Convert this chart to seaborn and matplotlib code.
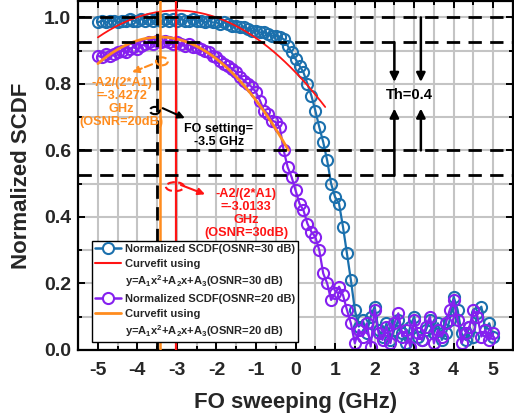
import numpy as np
import matplotlib
matplotlib.use("Agg")
import matplotlib.pyplot as plt
from matplotlib.lines import Line2D
from matplotlib.patches import Ellipse
from matplotlib.ticker import MultipleLocator
import seaborn as sns

# Frequency-offset sweep (GHz), 0.1 GHz step
fo_ghz = np.round(np.linspace(-5.0, 5.0, 101), 2)

# Normalized SCDF, OSNR = 30 dB
scdf_30db = [
    0.985, 0.990, 0.985, 0.990, 0.990, 0.985, 0.990, 0.990, 0.995, 0.990,  # -5.0 .. -4.1
    0.990, 0.995, 0.990, 0.995, 0.990, 0.995, 0.990, 0.995, 0.990, 0.995,  # -4.0 .. -3.1
    0.990, 0.995, 0.990, 0.990, 0.995, 0.990, 0.990, 0.985, 0.990, 0.985,  # -3.0 .. -2.1
    0.985, 0.980, 0.985, 0.980, 0.975, 0.975, 0.970, 0.970, 0.965, 0.960,  # -2.0 .. -1.1
    0.960, 0.955, 0.955, 0.950, 0.945, 0.945, 0.940, 0.935, 0.915, 0.895,  # -1.0 .. -0.1
    0.875, 0.855, 0.835, 0.800, 0.765, 0.720, 0.670, 0.625, 0.570, 0.500,  #  0.0 ..  0.9
    0.460, 0.440, 0.370, 0.290, 0.210, 0.120, 0.070, 0.090, 0.050, 0.100,  #  1.0 ..  1.9
    0.130, 0.060, 0.040, 0.080, 0.030, 0.060, 0.090, 0.050, 0.020, 0.070,  #  2.0 ..  2.9
    0.100, 0.040, 0.030, 0.060, 0.090, 0.050, 0.080, 0.030, 0.050, 0.090,  #  3.0 ..  3.9
    0.160, 0.120, 0.050, 0.030, 0.070, 0.040, 0.110, 0.130, 0.060, 0.080,  #  4.0 ..  4.9
    0.040,                                                                  #  5.0
]

# Normalized SCDF, OSNR = 20 dB
scdf_20db = [
    0.885, 0.880, 0.890, 0.885, 0.890, 0.895, 0.900, 0.895, 0.905, 0.910,  # -5.0 .. -4.1
    0.905, 0.915, 0.920, 0.925, 0.920, 0.930, 0.925, 0.930, 0.925, 0.920,  # -4.0 .. -3.1
    0.925, 0.920, 0.915, 0.920, 0.910, 0.910, 0.905, 0.900, 0.895, 0.885,  # -3.0 .. -2.1
    0.880, 0.870, 0.860, 0.855, 0.845, 0.835, 0.820, 0.810, 0.800, 0.790,  # -2.0 .. -1.1
    0.775, 0.750, 0.720, 0.710, 0.690, 0.685, 0.670, 0.600, 0.550, 0.520,  # -1.0 .. -0.1
    0.480, 0.440, 0.420, 0.380, 0.355, 0.340, 0.300, 0.230, 0.200, 0.150,  #  0.0 ..  0.9
    0.170, 0.190, 0.165, 0.120, 0.080, 0.020, 0.060, 0.040, 0.080, 0.010,  #  1.0 ..  1.9
    0.120, 0.050, 0.030, 0.070, 0.020, 0.080, 0.110, 0.040, 0.060, 0.010,  #  2.0 ..  2.9
    0.090, 0.050, 0.030, 0.070, 0.100, 0.020, 0.060, 0.040, 0.080, 0.120,  #  3.0 ..  3.9
    0.150, 0.090, 0.020, 0.050, 0.070, 0.120, 0.100, 0.040, 0.060, 0.030,  #  4.0 ..  4.9
    0.050,                                                                  #  5.0
]

# Quadratic fits y = A1*(x - vertex)^2 + peak, vertex = -A2/(2*A1)
fit30_a1, fit30_vertex, fit30_peak, fit30_range = -0.0205, -3.0133, 1.021, (-5.0, 0.75)
fit20_a1, fit20_vertex, fit20_peak, fit20_range = -0.0323, -3.4272, 0.941, (-5.0, -0.18)

fo_setting = -3.5
th_levels_30 = (1.0, 0.6)
th_levels_20 = (0.925, 0.525)
threshold = 0.4

BLUE = "#1b70ad"
PURPLE = "#8520ef"
RED = "#ff1414"
ORANGE = "#ff8c1e"

sns.set_theme(style="ticks")
plt.rcParams.update({
    "font.family": ["Liberation Sans", "DejaVu Sans"],
    "font.weight": "bold",
    "axes.unicode_minus": False,
    "mathtext.fontset": "custom",
    "mathtext.rm": "Liberation Sans:bold",
    "mathtext.bf": "Liberation Sans:bold",
    "mathtext.it": "Liberation Sans:bold",
    "mathtext.default": "bf",
})

fig, ax = plt.subplots(figsize=(5.14, 4.19), dpi=100)
fig.subplots_adjust(left=0.152, right=0.998, bottom=0.165, top=0.998)

ax.set_xlim(-5.5, 5.5)
ax.set_ylim(0, 1.05)
ax.xaxis.set_major_locator(MultipleLocator(1))
ax.xaxis.set_minor_locator(MultipleLocator(0.5))
ax.yaxis.set_major_locator(MultipleLocator(0.2))
ax.yaxis.set_minor_locator(MultipleLocator(0.1))
ax.grid(which="both", color="#c4c4c4", lw=1.5)
ax.set_axisbelow(True)

# measured SCDF curves
sns.lineplot(x=fo_ghz, y=scdf_30db, ax=ax, color=BLUE, lw=1.6, marker="o",
             markersize=8, markerfacecolor="none", markeredgecolor=BLUE,
             markeredgewidth=1.5, errorbar=None, zorder=2)
sns.lineplot(x=fo_ghz, y=scdf_20db, ax=ax, color=PURPLE, lw=1.6, marker="o",
             markersize=8, markerfacecolor="none", markeredgecolor=PURPLE,
             markeredgewidth=1.5, errorbar=None, zorder=2.1)

# quadratic curve fits
x30 = np.linspace(*fit30_range, 200)
x20 = np.linspace(*fit20_range, 200)
sns.lineplot(x=x30, y=fit30_a1 * (x30 - fit30_vertex) ** 2 + fit30_peak, ax=ax,
             color=RED, lw=1.3, errorbar=None, zorder=3)
sns.lineplot(x=x20, y=fit20_a1 * (x20 - fit20_vertex) ** 2 + fit20_peak, ax=ax,
             color=ORANGE, lw=2.0, errorbar=None, zorder=3)

# vertex lines and FO setting
ax.axvline(fit20_vertex, color=ORANGE, lw=1.8, zorder=3.5)
ax.axvline(fit30_vertex, color=RED, lw=1.6, zorder=3.5)
dash = (0, (4.8, 3.0))
ax.axvline(fo_setting, color="black", lw=2.0, ls=dash, zorder=4)
for lvl in th_levels_30 + th_levels_20:
    ax.axhline(lvl, color="black", lw=2.0, ls=dash, zorder=4)

# threshold arrows
arrow_kw = dict(arrowstyle="-|>", color="black", lw=1.8, mutation_scale=13,
                shrinkA=0, shrinkB=0)
th_x20, th_x30 = 2.5, 3.17
tip_top, tip_bot = 0.806, 0.726
ax.annotate("", xy=(th_x20, tip_top), xytext=(th_x20, th_levels_20[0]), arrowprops=arrow_kw, zorder=5)
ax.annotate("", xy=(th_x30, tip_top), xytext=(th_x30, th_levels_30[0]), arrowprops=arrow_kw, zorder=5)
ax.annotate("", xy=(th_x20, tip_bot), xytext=(th_x20, th_levels_20[1]), arrowprops=arrow_kw, zorder=5)
ax.annotate("", xy=(th_x30, tip_bot), xytext=(th_x30, th_levels_30[1]), arrowprops=arrow_kw, zorder=5)
ax.text(2.88, 0.766, f"Th={threshold}", ha="center", va="center", fontsize=10.5,
        fontweight="bold", color="black", zorder=6)

# marked points with callouts
ax.add_patch(Ellipse((-3.38, 0.868), 0.3, 0.024, fill=False, ec=ORANGE, lw=1.5, ls="--", zorder=5))
ax.annotate("", xy=(-4.14, 0.835), xytext=(-3.63, 0.859),
            arrowprops=dict(arrowstyle="-|>", color=ORANGE, lw=1.5, ls="--",
                            mutation_scale=10, shrinkA=0, shrinkB=0), zorder=5)
ax.text(-4.4, 0.745, f"-A2/(2*A1)\n={fit20_vertex:.4f}\nGHz\n(OSNR=20dB)",
        ha="center", va="center", color=ORANGE, fontsize=9.2, fontweight="bold",
        linespacing=1.1, zorder=6)

ax.add_patch(Ellipse((-3.56, 0.72), 0.25, 0.022, fill=False, ec="black", lw=1.5, ls="--", zorder=5))
ax.annotate("", xy=(-2.8, 0.697), xytext=(-3.36, 0.727),
            arrowprops=dict(arrowstyle="-|>", color="black", lw=1.5,
                            mutation_scale=10, shrinkA=0, shrinkB=0), zorder=5)
ax.text(-1.94, 0.644, f"FO setting=\n{fo_setting} GHz", ha="center", va="center",
        color="black", fontsize=9, fontweight="bold", linespacing=1.15, zorder=6)

ax.add_patch(Ellipse((-3.05, 0.491), 0.46, 0.027, fill=False, ec=RED, lw=1.5, ls="--", zorder=5))
ax.annotate("", xy=(-2.29, 0.468), xytext=(-2.9, 0.496),
            arrowprops=dict(arrowstyle="-|>", color=RED, lw=1.5,
                            mutation_scale=10, shrinkA=0, shrinkB=0), zorder=5)
ax.text(-1.25, 0.411, f"-A2/(2*A1)\n={fit30_vertex:.4f}\nGHz\n(OSNR=30dB)",
        ha="center", va="center", color=RED, fontsize=9.2, fontweight="bold",
        linespacing=1.1, zorder=6)

# axes styling
for sp in ax.spines.values():
    sp.set_linewidth(1.6)
    sp.set_color("black")
    sp.set_visible(True)
ax.tick_params(which="both", direction="in", top=True, right=True, width=1.4, color="black")
ax.tick_params(which="major", length=5, labelsize=14)
ax.tick_params(axis="x", which="major", pad=9)
ax.tick_params(axis="y", which="major", pad=5)
ax.tick_params(which="minor", length=3)
for lab in ax.get_xticklabels() + ax.get_yticklabels():
    lab.set_fontweight("bold")
ax.set_xlabel("FO sweeping (GHz)", fontsize=16, fontweight="bold", labelpad=9)
ax.set_ylabel("Normalized SCDF", fontsize=16, fontweight="bold", labelpad=9)

# legend
blank = Line2D([], [], color="none")
handles = [
    Line2D([], [], color=BLUE, lw=1.8, marker="o", ms=8, mfc="white", mec=BLUE, mew=1.5),
    Line2D([], [], color=RED, lw=1.5),
    blank,
    Line2D([], [], color=PURPLE, lw=1.8, marker="o", ms=8, mfc="white", mec=PURPLE, mew=1.5),
    Line2D([], [], color=ORANGE, lw=2.0),
    blank,
]
labels = [
    "Normalized SCDF(OSNR=30 dB)",
    "Curvefit using",
    r"y=A$_1$x$^2$+A$_2$x+A$_3$(OSNR=30 dB)",
    "Normalized SCDF(OSNR=20 dB)",
    "Curvefit using",
    r"y=A$_1$x$^2$+A$_2$x+A$_3$(OSNR=20 dB)",
]
leg = ax.legend(handles, labels, loc="lower left", bbox_to_anchor=(0.032, 0.023),
                borderaxespad=0, fontsize=8, frameon=True, fancybox=False,
                framealpha=1, edgecolor="black", handlelength=2.4,
                handletextpad=0.3, labelspacing=0.42, borderpad=0.25)
leg.get_frame().set_linewidth(1.0)
leg.set_zorder(7)
for t in leg.get_texts():
    t.set_fontweight("bold")

fig.savefig("out.png", dpi=100)
